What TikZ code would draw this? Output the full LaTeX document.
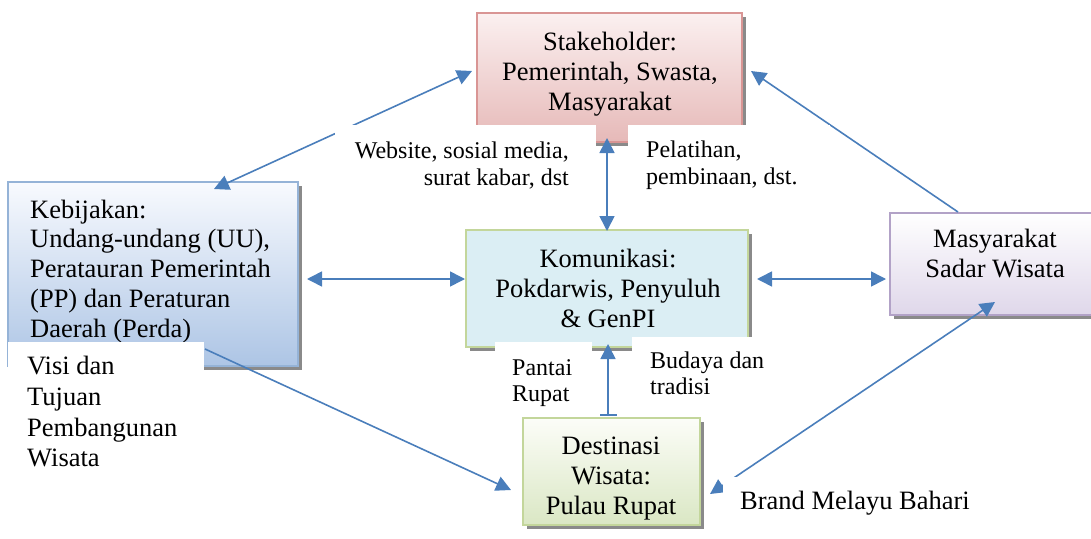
\documentclass[tikz,border=0pt]{standalone}
\usepackage{fontspec}
\setmainfont{Liberation Serif}
\usetikzlibrary{arrows.meta,shadows}
\definecolor{arr}{HTML}{4A7EBB}
\definecolor{stkB}{HTML}{D99594}\definecolor{stkT}{HTML}{FBF0F0}\definecolor{stkD}{HTML}{E6B9B8}
\definecolor{kebB}{HTML}{95B3D7}\definecolor{kebT}{HTML}{F8FAFE}\definecolor{kebD}{HTML}{ADC5E5}
\definecolor{komB}{HTML}{C3D69B}\definecolor{komF}{HTML}{DBEEF4}
\definecolor{masB}{HTML}{B2A2C7}\definecolor{masT}{HTML}{FFFFFF}\definecolor{masD}{HTML}{DFD7EA}
\definecolor{desB}{HTML}{C3D69B}\definecolor{desT}{HTML}{FCFDF8}\definecolor{desD}{HTML}{DAE7C4}
\definecolor{shd}{HTML}{8A8A8A}
\tikzset{atip/.tip={Triangle[length=15pt,width=15pt]}}
\begin{document}
\begin{tikzpicture}[x=1pt,y=-1pt,
  box/.style={rectangle, line width=2.5pt, inner sep=0pt,
    drop shadow={shadow xshift=4pt, shadow yshift=-4pt, opacity=1, fill=shd}},
  big/.style={inner sep=0pt, font=\fontsize{26.5}{30}\selectfont},
  small/.style={inner sep=0pt, font=\fontsize{24}{26.5}\selectfont},
  conn/.style={draw=arr, line width=1.6pt},
  cover/.style={fill=white}]
\useasboundingbox (0,0) rectangle (1091,538);
% boxes
\node[box, draw=stkB, top color=stkT, bottom color=stkD, minimum width=265pt, minimum height=129pt] (stk) at (609.5,77.5) {};
\node[box, draw=kebB, top color=kebT, bottom color=kebD, minimum width=290pt, minimum height=184pt] (keb) at (153,274) {};
\node[box, draw=komB, fill=komF, minimum width=282pt, minimum height=117pt] (kom) at (607,288.5) {};
\node[box, draw=masB, top color=masT, bottom color=masD, minimum width=214pt, minimum height=102pt] (mas) at (997,264) {};
\node[box, draw=desB, top color=desT, bottom color=desD, minimum width=177pt, minimum height=107pt] (des) at (611.5,471.5) {};
% box texts
\node[big, align=center] (stkTxt) at (610,73.7) {Stakeholder:\\Pemerintah, Swasta,\\Masyarakat};
\node[big, align=left, anchor=west, font=\fontsize{26.5}{29.75}\selectfont] (kebTxt) at (30,271.2) {Kebijakan:\\Undang-undang (UU),\\Peratauran Pemerintah\\(PP) dan Peraturan\\Daerah (Perda)};
\node[big, align=center] (komTxt) at (608,288) {Komunikasi:\\Pokdarwis, Penyuluh\\\& GenPI};
\node[big, align=center] (masTxt) at (995,253.8) {Masyarakat\\Sadar Wisata};
\node[big, align=center] (desTxt) at (611,479) {Destinasi\\Wisata:\\Pulau Rupat};
% connector ends
\coordinate (k1) at (214,189);
\coordinate (s1) at (472,71);
\coordinate (k2) at (307,279);
\coordinate (c1) at (465,279);
\coordinate (c2) at (757,279);
\coordinate (m1) at (886,279);
\coordinate (m2) at (958,212);
\coordinate (s2) at (751,71);
\coordinate (s3) at (607,138);
\coordinate (c3) at (607,231);
\coordinate (c4) at (608,344);
\coordinate (d1) at (608,416);
\coordinate (k3) at (205,349);
\coordinate (d2) at (511,490);
\coordinate (d3) at (710,494);
\coordinate (m3) at (995,302);
% connectors
\draw[conn, {atip}-{atip}] (k1) -- (s1);
\draw[conn, {atip}-{atip}] (k2) -- (c1);
\draw[conn, {atip}-{atip}] (c2) -- (m1);
\draw[conn, -{atip}] (m2) -- (s2);
\draw[conn, {atip}-{atip}] (s3) -- (c3);
\draw[conn, {Bar[width=17pt,line width=1.6pt]}-{atip}] (d1) -- (c4);
\draw[conn, -{atip}] (k3) -- (d2);
\draw[conn, {atip}-{atip}] (d3) -- (m3);
% label covers
\fill[cover] (335,125) rectangle (596,200);
\fill[cover] (628,125) rectangle (830,200);
\fill[cover] (495,342) rectangle (592,412);
\fill[cover] (632,337) rectangle (790,412);
\fill[cover] (8,342) rectangle (204,478);
\fill[cover] (723,477) rectangle (985,525);
% labels
\node[small, align=right, anchor=east] (lWeb) at (569,165.5) {Website, sosial media,\\surat kabar, dst};
\node[small, align=left, anchor=west] (lPel) at (646,165) {Pelatihan,\\pembinaan, dst.};
\node[small, align=left, anchor=west] (lPan) at (512,383) {Pantai\\Rupat};
\node[small, align=left, anchor=west] (lBud) at (650,373.3) {Budaya dan\\tradisi};
\node[big, align=left, anchor=west, font=\fontsize{26.5}{30.7}\selectfont] (lVisi) at (27,411.8) {Visi dan\\Tujuan\\Pembangunan\\Wisata};
\node[inner sep=0pt, anchor=base west, font=\fontsize{26.5}{30}\selectfont] (lBrand) at (740,509) {Brand Melayu Bahari};
\end{tikzpicture}
\end{document}
